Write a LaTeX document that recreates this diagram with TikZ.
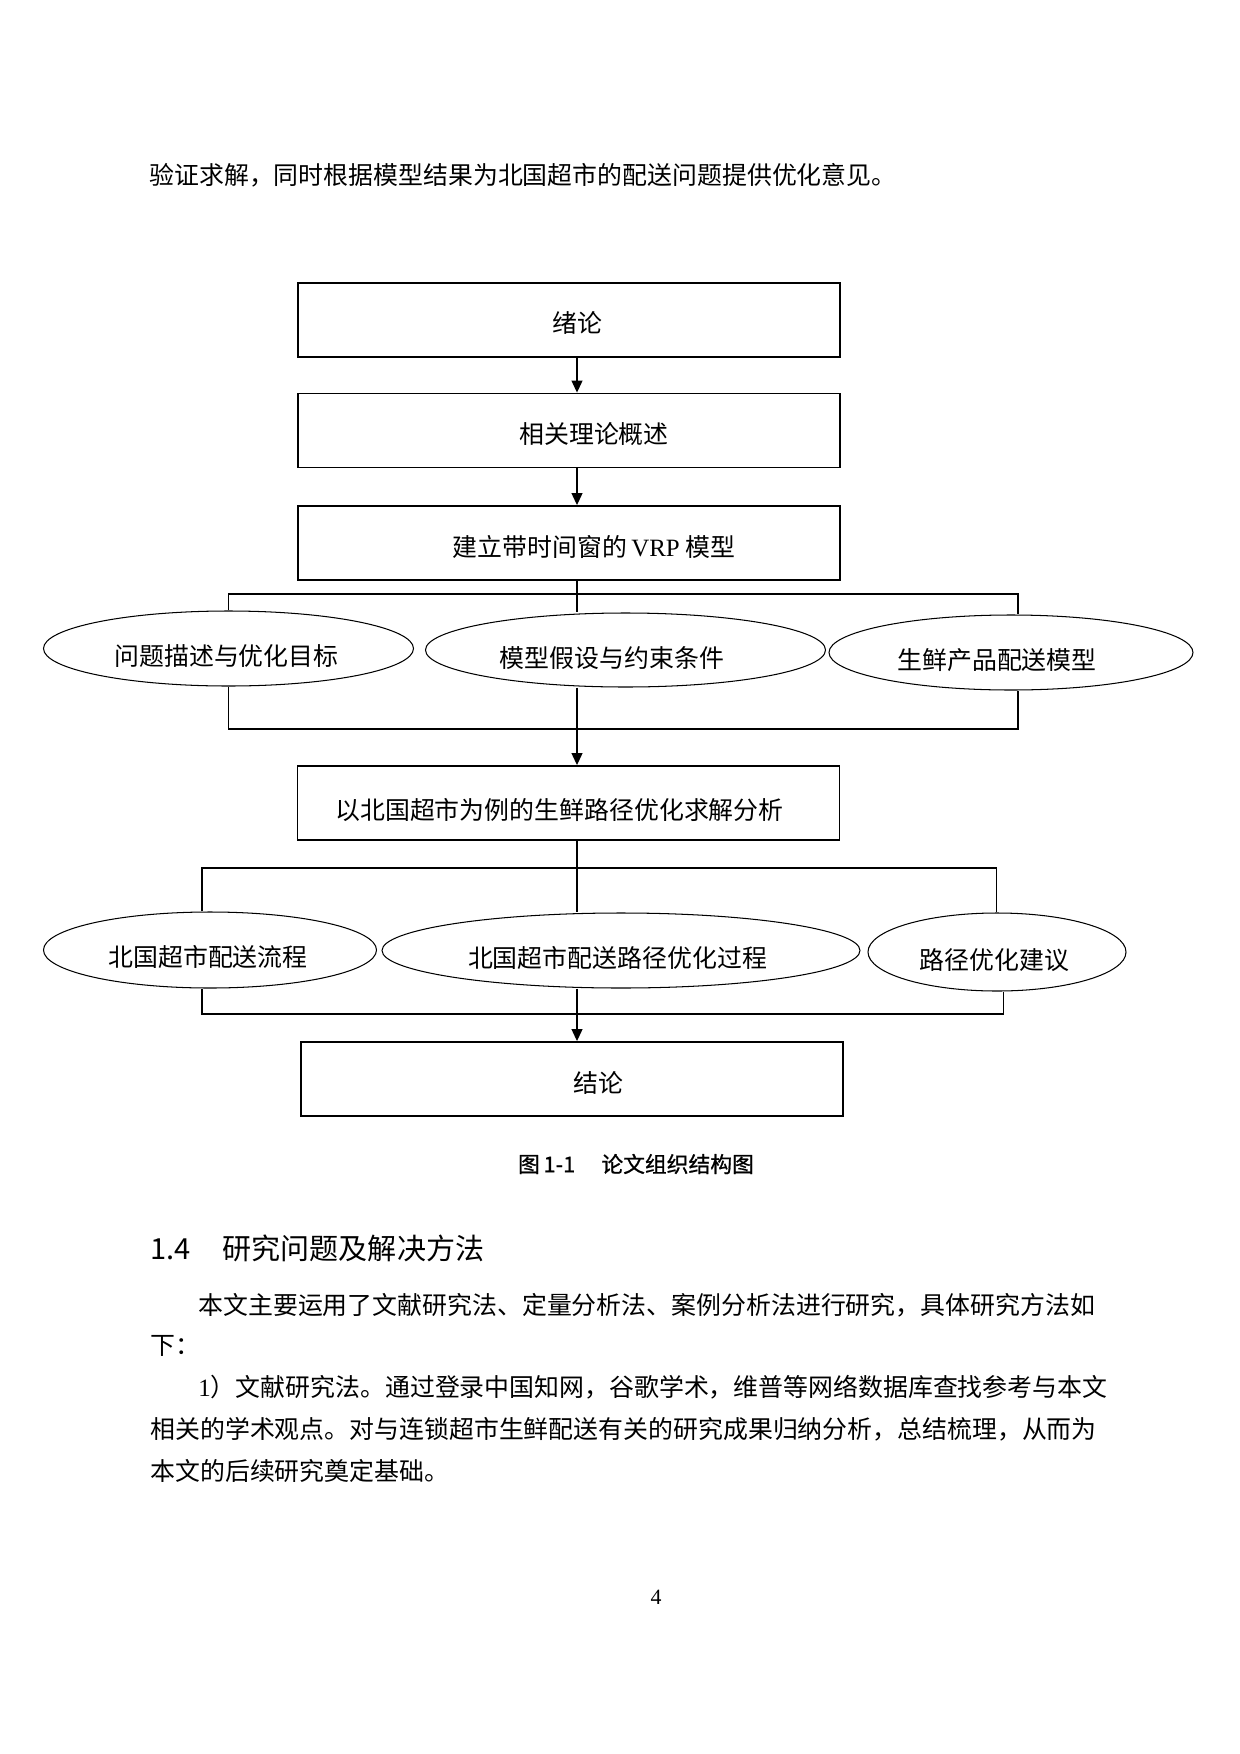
\documentclass[tikz,border=0pt]{standalone}
\usepackage{fontspec}
\setmainfont{Liberation Serif}
\newfontfamily\cjk{Noto Sans CJK SC}
\newfontfamily\hei{Noto Sans CJK SC}[FakeBold=0.8]
\usetikzlibrary{arrows.meta,shapes.geometric}
\newlength\pxu
\setlength{\pxu}{0.169355mm}

\begin{document}
\begin{tikzpicture}[x=\pxu,y=-\pxu]
\useasboundingbox (0,0) rectangle (1240,1754);
\tikzset{box/.style={draw,line width=0.9pt,minimum width=542\pxu,minimum height=74\pxu,inner sep=0pt}};
\tikzset{boxtext/.style={font=\cjk\fontsize{12pt}{14pt}\selectfont,inner sep=0pt}};
\tikzset{oval/.style={ellipse,draw,line width=0.5pt,inner sep=0pt}};
\tikzset{conn/.style={line width=0.6pt}};
\tikzset{arr/.style={conn,-{Triangle[length=5.8pt,width=5.3pt]}}};
\tikzset{para/.style={anchor=west,inner sep=0pt,font=\cjk\fontsize{12pt}{14pt}\selectfont}};

\node[para] (lead) at (149,175) {验证求解，同时根据模型结果为北国超市的配送问题提供优化意见。};

\node[box,label={[boxtext,xshift=8\pxu,yshift=-3\pxu]center:绪论}] (intro) at (569,319.7) {};
\node[box,label={[boxtext,xshift=25\pxu,yshift=-4\pxu]center:相关理论概述}] (theory) at (569,430.5) {};
\node[box,label={[boxtext,xshift=25\pxu,yshift=-4\pxu]center:建立带时间窗的\,{\rmfamily VRP} 模型}] (model) at (569,543) {};

\node[oval,minimum width=370\pxu,minimum height=75\pxu,label={[boxtext,xshift=-2\pxu,yshift=-7.5\pxu]center:问题描述与优化目标}] (desc) at (228.5,648.5) {};
\node[oval,minimum width=400\pxu,minimum height=74\pxu,label={[boxtext,xshift=-13.5\pxu,yshift=-7.7\pxu]center:模型假设与约束条件}] (assume) at (625.5,650) {};
\node[oval,minimum width=364\pxu,minimum height=75\pxu,label={[boxtext,xshift=-14\pxu,yshift=-7.5\pxu]center:生鲜产品配送模型}] (fresh) at (1011,652.5) {};

\node[box,label={[boxtext,xshift=-9\pxu,yshift=-7\pxu]center:以北国超市为例的生鲜路径优化求解分析}] (analysis) at (568.5,803) {};

\node[oval,minimum width=333\pxu,minimum height=76\pxu,label={[boxtext,xshift=-2\pxu,yshift=-6.7\pxu]center:北国超市配送流程}] (flow) at (210,950) {};
\node[oval,minimum width=478\pxu,minimum height=75\pxu,label={[boxtext,xshift=-3.5\pxu,yshift=-7.5\pxu]center:北国超市配送路径优化过程}] (process) at (621,950.5) {};
\node[oval,minimum width=258\pxu,minimum height=78\pxu,label={[boxtext,xshift=-2.5\pxu,yshift=-8\pxu]center:路径优化建议}] (advice) at (997,952) {};

\node[box,label={[boxtext,xshift=26\pxu,yshift=-4\pxu]center:结论}] (conclusion) at (572,1079) {};

\coordinate (axis) at (577,0);
\coordinate (v1) at (1018,594);
\coordinate (w1) at (1018,729);
\coordinate (u2) at (202,868);
\coordinate (v2) at (996.5,868);
\coordinate (u3) at (202,1014);
\coordinate (v3) at (1003.5,1014);

\draw[arr] (intro.south -| axis) -- (theory.north -| axis);
\draw[arr] (theory.south -| axis) -- (model.north -| axis);
\draw[conn] (model.south -| axis) -- (assume.north -| axis);
\draw[conn] (desc.north) |- (v1) -- (v1 |- fresh.north);
\draw[conn] (desc.south) |- (w1) -- (w1 |- fresh.south);
\draw[arr] (assume.south -| axis) -- (analysis.north -| axis);
\draw[conn] (analysis.south -| axis) -- (process.north -| axis);
\draw[conn] (u2 |- flow.north) -- (u2) -- (v2) -- (v2 |- advice.north);
\draw[conn] (u3 |- flow.south) -- (u3) -- (v3) -- (v3 |- advice.south);
\draw[arr] (process.south -| axis) -- (conclusion.north -| axis);

\node[font=\hei\fontsize{10.5pt}{12pt}\selectfont,inner sep=0pt] (caption) at (636,1164) {图\,1-1\hspace{1.2em}论文组织结构图};

\node[para,font=\cjk\fontsize{14pt}{16pt}\selectfont] (heading) at (150,1248) {1.4\hspace{1.1em}研究问题及解决方法};
\node[para] (p1) at (198,1305.5) {本文主要运用了文献研究法、定量分析法、案例分析法进行研究，具体研究方法如};
\node[para] (p2) at (150,1346) {下：};
\node[para] (p3) at (198,1387) {{\rmfamily 1}）文献研究法。通过登录中国知网，谷歌学术，维普等网络数据库查找参考与本文};
\node[para] (p4) at (150,1429) {相关的学术观点。对与连锁超市生鲜配送有关的研究成果归纳分析，总结梳理，从而为};
\node[para] (p5) at (150,1470.6) {本文的后续研究奠定基础。};

\node[inner sep=0pt,font=\fontsize{10.5pt}{12pt}\selectfont] (page) at (656,1597) {4};
\end{tikzpicture}
\end{document}
